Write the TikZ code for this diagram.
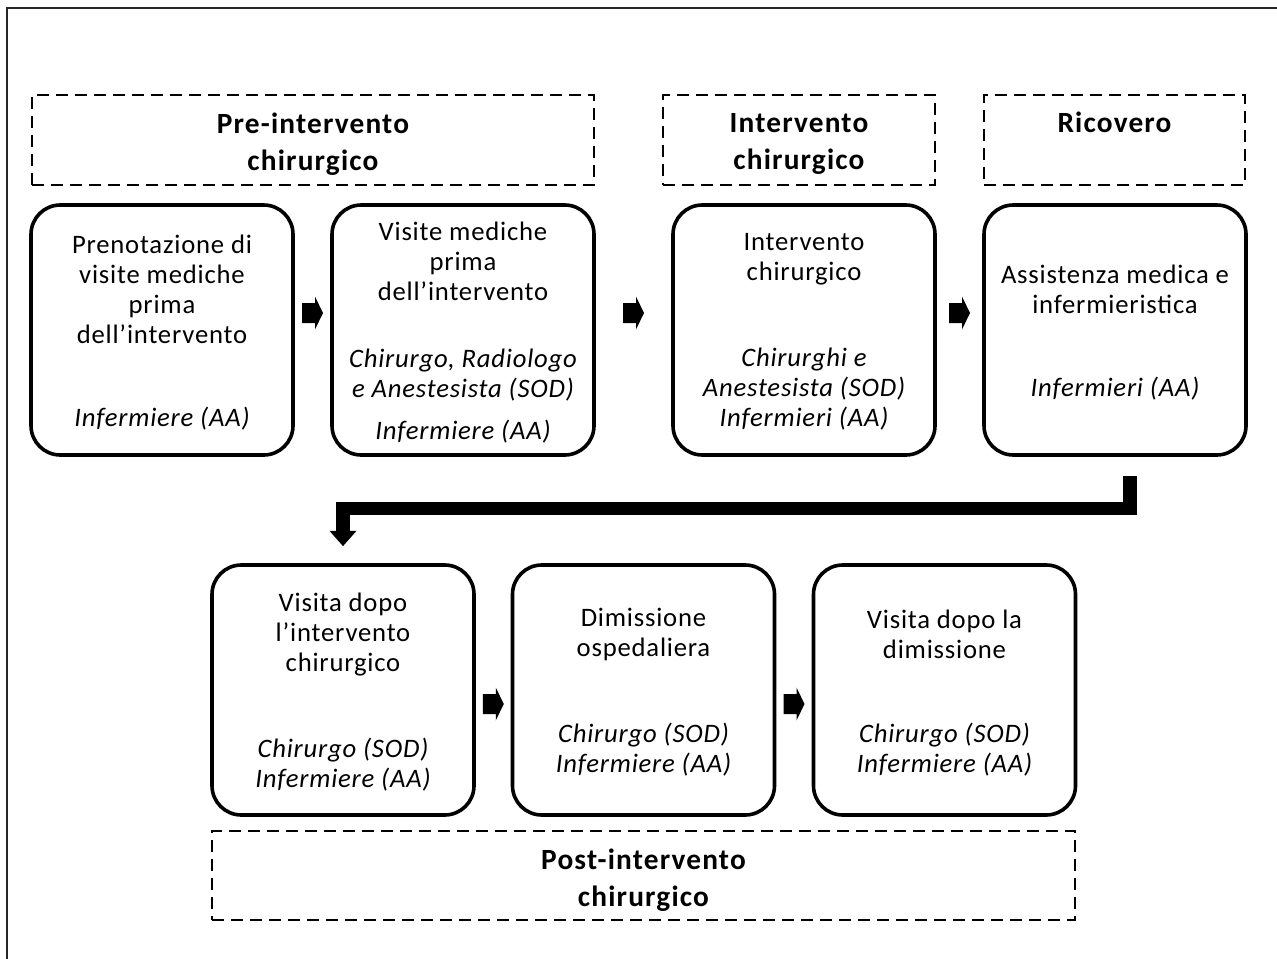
\documentclass[tikz,border=0pt]{standalone}
\usepackage{fontspec}
\setmainfont{Carlito}
\newfontfamily\bodyfont[LetterSpace=3]{Carlito}
\newfontfamily\headfont[LetterSpace=4]{Carlito}
\usetikzlibrary{calc,arrows.meta}
\tikzset{
  stepbox/.style={draw, line width=2.7pt, rounded corners=22pt, minimum width=196.5pt, minimum height=187.5pt, inner sep=0pt},
  phasebox/.style={draw, line width=2.1pt, dash pattern=on 9pt off 5.25pt, inner sep=0pt},
  maintxt/.style={align=center, font=\bodyfont\fontsize{20}{22.5}\selectfont, inner sep=0pt},
  roletxt/.style={align=center, font=\bodyfont\fontsize{20}{22.5}\selectfont\itshape, inner sep=0pt},
  headtxt/.style={align=center, font=\headfont\fontsize{22}{27.75}\selectfont\bfseries, inner sep=0pt},
  bigconn/.style={line width=10pt, line join=miter, -{Triangle[width=19.5pt,length=11.5pt]}},
}
\newcommand{\blockarrow}[1]{\fill #1 ++(-10.5,-10) -- ++(13,0) -- ++(0,-6.5) -- ++(8,16.5) -- ++(-8,16.5) -- ++(0,-6.5) -- ++(-13,0) -- cycle;}
\begin{document}
\begin{tikzpicture}[x=0.75pt,y=-0.75pt]
\useasboundingbox (0,0) rectangle (1277,959);
\draw[line width=1.5pt, color=black!85] (6.5,8.5) rectangle (1300,1000);

% phase headers
\node[phasebox, minimum width=421.5pt, minimum height=67.5pt] (h1) at (313,140) {};
\node[phasebox, minimum width=204pt, minimum height=67.5pt] (h2) at (799,140) {};
\node[phasebox, minimum width=195.75pt, minimum height=67.5pt] (h3) at (1114.5,140) {};
\node[phasebox, minimum width=647.25pt, minimum height=66.75pt] (h4) at (643.5,875.5) {};
\node[headtxt] (h1t) at (313,144) {Pre-intervento\\chirurgico};
\node[headtxt] (h2t) at (799,144) {Intervento\\chirurgico};
\node[headtxt] (h3t) at (1114.5,122) {Ricovero};
\node[headtxt] (h4t) at (643.5,880.5) {Post-intervento\\chirurgico};

% top row
\node[stepbox] (s1) at (162,330) {};
\node[stepbox] (s2) at (463,330) {};
\node[stepbox] (s3) at (804,330) {};
\node[stepbox] (s4) at (1115,330) {};
% bottom row
\node[stepbox] (s5) at (343,690) {};
\node[stepbox] (s6) at (643.5,690) {};
\node[stepbox] (s7) at (944.5,690) {};

\node[maintxt] (s1m) at (162,289.5) {Prenotazione di\\visite mediche\\prima\\dell’intervento};
\node[roletxt] (s1r) at (162,419) {Infermiere (AA)};
\node[maintxt] (s2m) at (463,261.5) {Visite mediche\\prima\\dell’intervento};
\node[roletxt] (s2r) at (463,375.5) {Chirurgo, Radiologo\\e Anestesista (SOD)};
\node[roletxt] (s2r2) at (463,432) {Infermiere (AA)};
\node[maintxt] (s3m) at (804,259.5) {Intervento\\chirurgico};
\node[roletxt] (s3r) at (804,389.5) {Chirurghi e\\Anestesista (SOD)\\Infermieri (AA)};
\node[maintxt] (s4m) at (1115,289.5) {Assistenza medica e\\infermieristica};
\node[roletxt] (s4r) at (1115,389) {Infermieri (AA)};
\node[maintxt] (s5m) at (343,634.5) {Visita dopo\\l’intervento\\chirurgico};
\node[roletxt] (s5r) at (343,764.5) {Chirurgo (SOD)\\Infermiere (AA)};
\node[maintxt] (s6m) at (643.5,634.5) {Dimissione\\ospedaliera};
\node[roletxt] (s6r) at (643.5,749.5) {Chirurgo (SOD)\\Infermiere (AA)};
\node[maintxt] (s7m) at (944.5,634.5) {Visita dopo la\\dimissione};
\node[roletxt] (s7r) at (944.5,749.5) {Chirurgo (SOD)\\Infermiere (AA)};

% block arrows
\blockarrow{($(s1.east)!0.5!(s2.west)+(0,-17)$)}
\blockarrow{($(s2.east)!0.5!(s3.west)+(0,-17)$)}
\blockarrow{($(s3.east)!0.5!(s4.west)+(0,-17)$)}
\blockarrow{($(s5.east)!0.5!(s6.west)+(0,14)$)}
\blockarrow{($(s6.east)!0.5!(s7.west)+(0,14)$)}

% big connector
\draw[bigconn] ($(s4.south)+(15,19)$) |- ($(s5.north)+(0,-55)$) -- ($(s5.north)+(0,-17)$);
\end{tikzpicture}
\end{document}
